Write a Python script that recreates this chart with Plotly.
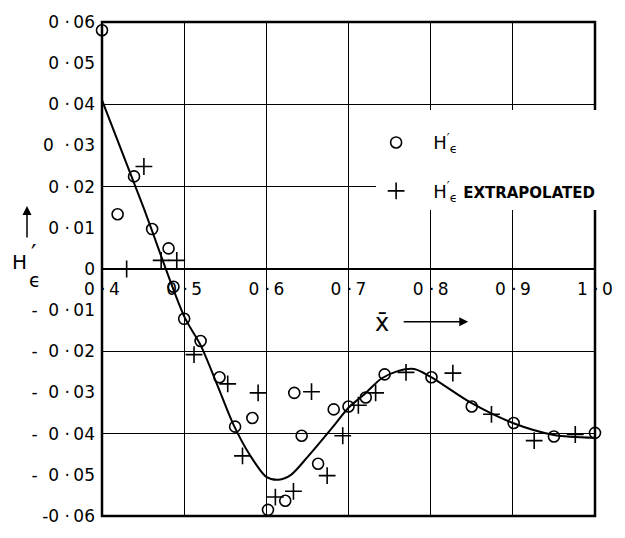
import plotly.graph_objects as go

# Measured H'_epsilon values
circ_x = [0.400, 0.419, 0.439, 0.461, 0.481, 0.487, 0.500, 0.520, 0.543, 0.562,
          0.583, 0.602, 0.623, 0.634, 0.643, 0.663, 0.682, 0.700, 0.721, 0.744,
          0.801, 0.850, 0.901, 0.950, 1.000]
circ_y = [0.0580, 0.0133, 0.0225, 0.0097, 0.0050, -0.0043, -0.0121, -0.0175, -0.0263, -0.0383,
          -0.0362, -0.0585, -0.0563, -0.0301, -0.0405, -0.0473, -0.0341, -0.0334, -0.0312, -0.0256,
          -0.0263, -0.0334, -0.0374, -0.0407, -0.0398]

# Extrapolated H'_epsilon values
extr_x = [0.406, 0.451, 0.430, 0.472, 0.491, 0.512, 0.553, 0.571, 0.590, 0.611,
          0.633, 0.655, 0.674, 0.693, 0.712, 0.733, 0.770, 0.827, 0.874, 0.926, 0.976]
extr_y = [0.0601, 0.0249, 0.0000, 0.0021, 0.0021, -0.0208, -0.0279, -0.0454, -0.0301, -0.0554,
          -0.0540, -0.0298, -0.0502, -0.0405, -0.0331, -0.0301, -0.0251, -0.0253, -0.0353, -0.0417, -0.0402]

# Faired curve through the data
curve_x = [0.400, 0.450, 0.500, 0.520, 0.540, 0.560, 0.580, 0.600, 0.615, 0.630,
           0.650, 0.680, 0.700, 0.720, 0.740, 0.760, 0.780, 0.800, 0.850, 0.900, 0.950, 1.000]
curve_y = [0.0410, 0.0152, -0.0115, -0.0185, -0.0280, -0.0378, -0.0452, -0.0505, -0.0512, -0.0500,
           -0.0457, -0.0386, -0.0337, -0.0303, -0.0266, -0.0248, -0.0243, -0.0262, -0.0326, -0.0374, -0.0403, -0.0410]

TS = "\u2009"   # thin space
NB = "\u00a0"   # no-break space

x_ticks = [0.4, 0.5, 0.6, 0.7, 0.8, 0.9, 1.0]
x_labels = [f"0 ·{TS}4", f"0 ·{TS}5", f"0 ·{TS}6", f"0 ·{TS}7", f"0 ·{TS}8", f"0 ·{TS}9", f"1 ·{TS}0"]
y_ticks = [0.06, 0.05, 0.04, 0.03, 0.02, 0.01, 0.0,
           -0.01, -0.02, -0.03, -0.04, -0.05, -0.06]
y_labels = [f"0 ·{TS}06", f"0 ·{TS}05", f"0 ·{TS}04", f"0{NB} ·{TS}03", f"0 ·{TS}02", f"0 ·{TS}01", "0",
            f"-{NB}{NB}0 ·{TS}01", f"-{NB}{NB}0 ·{TS}02", f"-{NB}{NB}0 ·{TS}03",
            f"-{NB}{NB}0 ·{TS}04", f"-{NB}{NB}0 ·{TS}05", f"-0 ·{TS}06"]
grid_y = [-0.04, -0.02, 0.02, 0.04]

FONT = "DejaVu Sans"
INK = "black"

fig = go.Figure()

fig.add_trace(go.Scatter(
    x=curve_x, y=curve_y, mode="lines", yaxis="y2",
    line=dict(color=INK, width=2, shape="spline", smoothing=0.8),
    showlegend=False, hoverinfo="skip", cliponaxis=False))

fig.add_trace(go.Scatter(
    x=circ_x, y=circ_y, mode="markers", yaxis="y2",
    name="   H<sup>′</sup><sub>ϵ</sub>", legendgroup="a",
    marker=dict(symbol="circle-open", size=11, color=INK, line=dict(width=1.6, color=INK)),
    cliponaxis=False))

fig.add_trace(go.Scatter(
    x=extr_x, y=extr_y, mode="markers", yaxis="y2",
    name="   H<sup>′</sup><sub>ϵ</sub> <span style='font-size:15px'><b>EXTRAPOLATED</b></span>",
    legendgroup="b",
    marker=dict(symbol="cross-thin-open", size=12, color=INK, line=dict(width=1.6, color=INK)),
    cliponaxis=False))

fig.update_layout(
    width=625, height=538,
    margin=dict(l=102, r=19, t=17, b=16),
    paper_bgcolor="white", plot_bgcolor="white",
    font=dict(family=FONT, color=INK, size=17),
    xaxis=dict(
        range=[0.4, 1.0], anchor="free", position=0.5,
        showline=True, linecolor=INK, linewidth=2,
        showgrid=True, gridcolor=INK, gridwidth=1, zeroline=False,
        tickvals=x_ticks, ticktext=x_labels, ticks="",
        tickfont=dict(family=FONT, size=17, color=INK), ticklabelstandoff=5),
    yaxis=dict(
        range=[-0.06, 0.06], showgrid=False, zeroline=False, showline=False,
        tickvals=y_ticks, ticktext=y_labels, ticks="",
        tickfont=dict(family=FONT, size=17, color=INK), ticklabelstandoff=6),
    yaxis2=dict(
        range=[-0.06, 0.06], overlaying="y", side="left",
        showgrid=True, gridcolor=INK, gridwidth=1, zeroline=False,
        tickvals=grid_y, showticklabels=False, ticks="", showline=False),
    legend=dict(
        x=0.556, y=0.822, xanchor="left", yanchor="top",
        bgcolor="white", borderwidth=0, tracegroupgap=22,
        title=dict(text=" ", font=dict(size=11)),
        font=dict(family=FONT, size=18, color=INK)),
    shapes=[dict(type="rect", xref="paper", yref="paper", x0=0, x1=1, y0=0, y1=1,
                 line=dict(color=INK, width=2.5), layer="below")],
)

# x-bar label with arrow
fig.add_annotation(x=0.7405, y=-0.0132, xref="x", yref="y", text="x̄",
                   showarrow=False, font=dict(family=FONT, size=24, color=INK))
fig.add_annotation(x=0.8457, y=-0.0128, xref="x", yref="y", text="",
                   showarrow=True, ax=-66, ay=0, arrowhead=2, arrowsize=1.2,
                   arrowwidth=1.5, arrowcolor=INK)

# vertical axis title H'_epsilon with arrow
fig.add_annotation(x=0, y=0.5, xref="paper", yref="paper", text="H",
                   xanchor="center", yanchor="middle",
                   showarrow=False, xshift=-83, yshift=7,
                   font=dict(family=FONT, size=20, color=INK))
fig.add_annotation(x=0, y=0.5, xref="paper", yref="paper", text="′",
                   xanchor="center", yanchor="middle",
                   showarrow=False, xshift=-69, yshift=15,
                   font=dict(family=FONT, size=24, color=INK))
fig.add_annotation(x=0, y=0.5, xref="paper", yref="paper", text="ϵ",
                   xanchor="center", yanchor="middle",
                   showarrow=False, xshift=-67, yshift=-11,
                   font=dict(family=FONT, size=19, color=INK))
fig.add_annotation(x=0, y=0.5, xref="paper", yref="paper", text="",
                   showarrow=True, xshift=-75, yshift=63, ax=0, ay=33,
                   arrowhead=2, arrowsize=1.2, arrowwidth=1.5, arrowcolor=INK)

fig.write_html("out.html")
